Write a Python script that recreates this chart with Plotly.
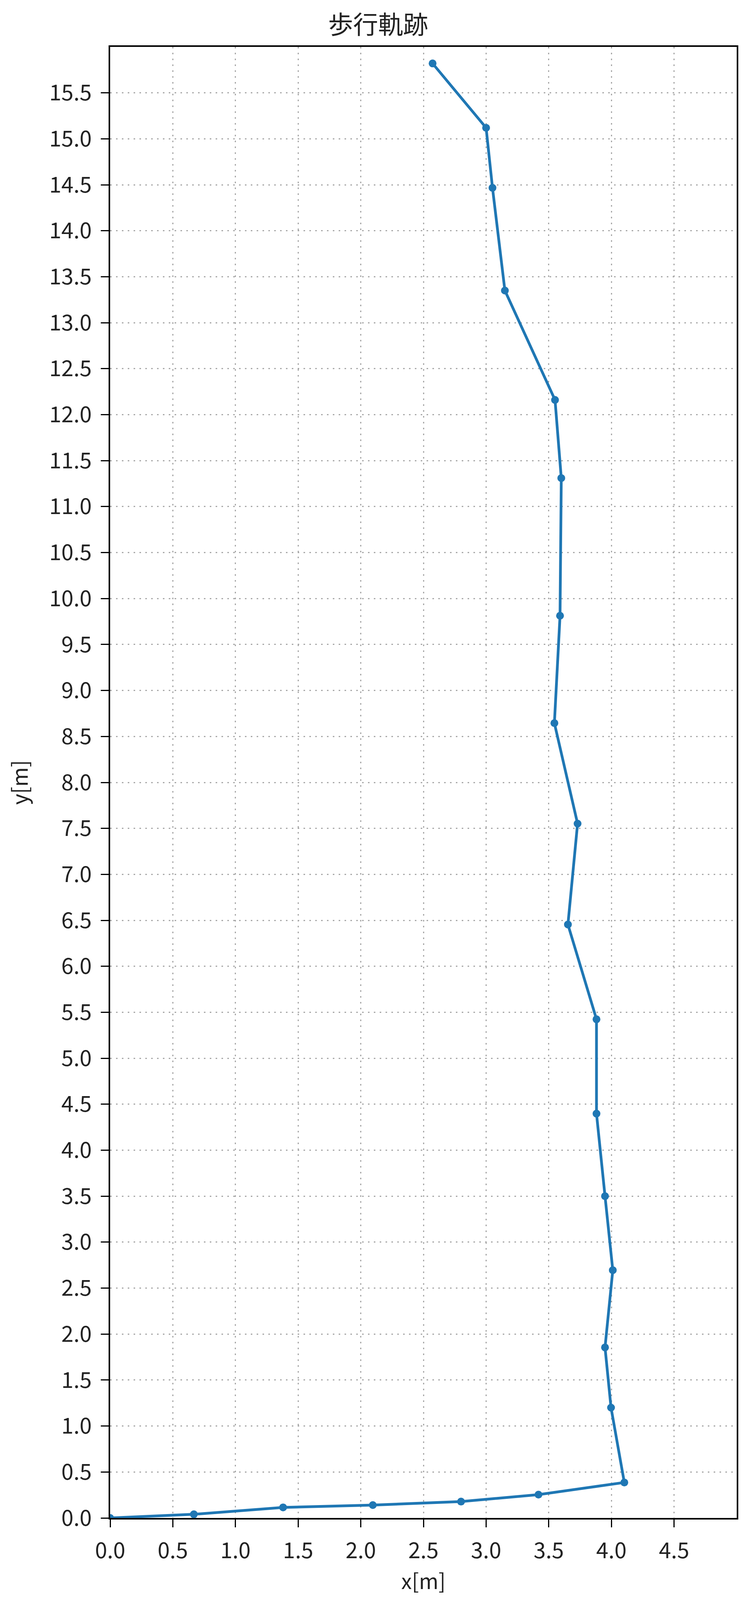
import plotly.graph_objects as go

# walking trajectory (metres)
pos_x = [0.0, 0.668, 1.38, 2.096, 2.80, 3.418, 4.103, 3.997, 3.949, 4.011, 3.949, 3.881,
         3.881, 3.653, 3.73, 3.545, 3.59, 3.60, 3.55, 3.15, 3.051, 3.0, 2.573]
pos_y = [0.0, 0.04, 0.115, 0.14, 0.178, 0.254, 0.386, 1.2, 1.855, 2.695, 3.5, 4.398,
         5.424, 6.455, 7.552, 8.645, 9.813, 11.31, 12.16, 13.35, 14.467, 15.12, 15.82]

x_ticks = [0.0, 0.5, 1.0, 1.5, 2.0, 2.5, 3.0, 3.5, 4.0, 4.5]
y_ticks = [i * 0.5 for i in range(32)]

plot_title = '歩行軌跡'
plot_xlabel = 'x[m]'
plot_ylabel = 'y[m]'

FONT = 'Noto Sans CJK JP'


def get_layout_attributes(title, xlabel, ylabel):
    axis_common = dict(
        showline=True, linecolor='black', linewidth=4, mirror=True,
        ticks='outside', ticklen=20, tickwidth=3, tickcolor='black',
        showgrid=True, gridcolor='#a8a8a8', gridwidth=3, griddash='4px,11px',
        zeroline=False, tickformat='.1f',
        tickfont=dict(family=FONT, size=56, color='#222222'),
        ticklabelstandoff=12,
    )
    layout = go.Layout(
        autosize=True,
        paper_bgcolor='white', plot_bgcolor='white',
        showlegend=False,
        margin=dict(l=274, r=42, t=112, b=218),
        title=dict(text=title, x=0.5, xanchor='center', y=0.9865,
                   yanchor='middle', yref='container',
                   font=dict(family=FONT, size=64, color='#222222')),
        xaxis=dict(range=[0, 5], tickvals=x_ticks,
                   title=dict(text=xlabel, standoff=14,
                              font=dict(family=FONT, size=54, color='#222222')),
                   **axis_common),
        yaxis=dict(range=[0, 16], tickvals=y_ticks,
                   title=dict(text=ylabel, standoff=40,
                              font=dict(family=FONT, size=54, color='#222222')),
                   **axis_common),
    )
    return layout


trace = go.Scatter(x=pos_x, y=pos_y, mode='lines+markers',
                   line=dict(color='#1f77b4', width=7),
                   marker=dict(color='#1f77b4', size=20))

fig = go.Figure(data=[trace], layout=get_layout_attributes(plot_title, plot_xlabel, plot_ylabel))
# fill the browser window instead of a fixed pixel size
fig.write_html('out.html', default_width='1920px', default_height='100vh')
